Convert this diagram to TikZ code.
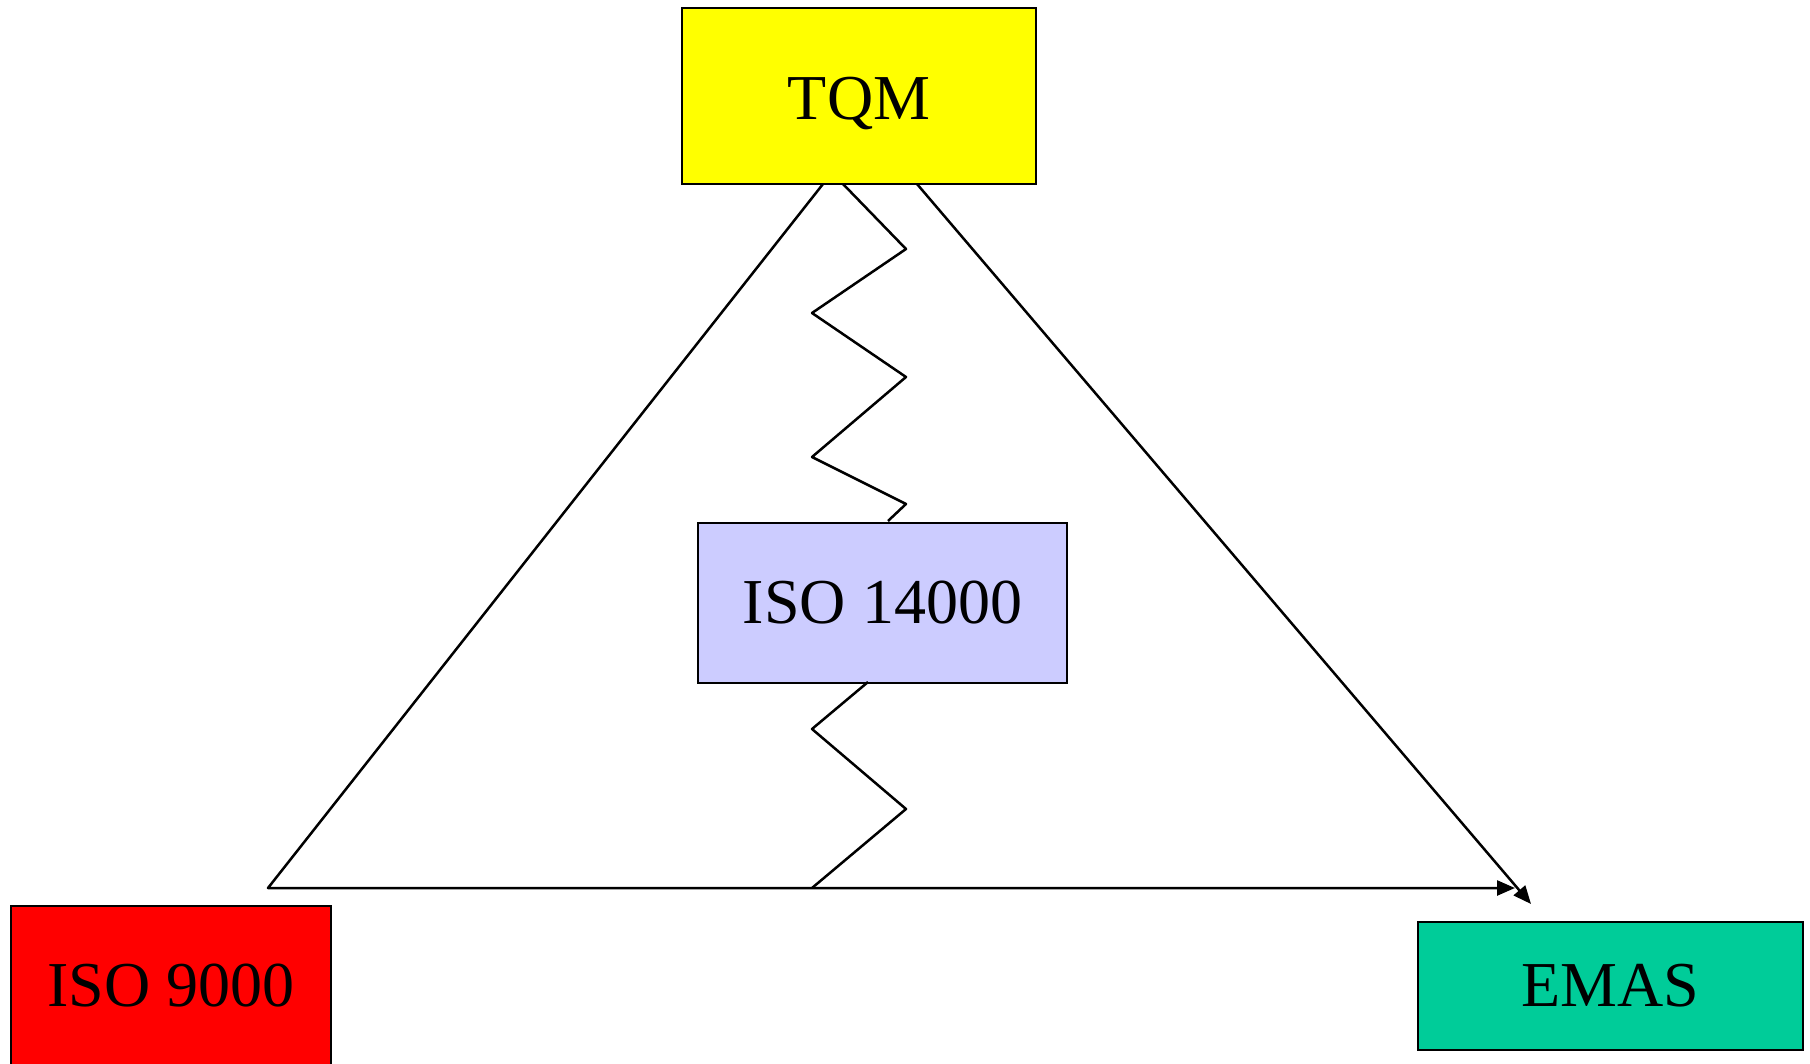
\documentclass[tikz,border=0pt]{standalone}
\usepackage{fontspec}
\setmainfont{Liberation Serif}
\usetikzlibrary{arrows.meta}
\definecolor{tqmyellow}{HTML}{FFFF00}
\definecolor{isoblue}{HTML}{CCCCFF}
\definecolor{isored}{HTML}{FF0000}
\definecolor{emasgreen}{HTML}{00CC99}
\tikzset{
  box/.style={draw=black, line width=2.6pt, inner sep=0pt, font=\fontsize{64}{72}\selectfont},
  conn/.style={draw=black, line width=2.5pt, line join=round},
  arr/.style={conn, -{Triangle[length=18pt, width=15pt]}}
}
\begin{document}
\begin{tikzpicture}[x=1pt, y=-1pt]
\useasboundingbox (0,0) rectangle (1810,1064);
\node[box, fill=tqmyellow, minimum width=354pt, minimum height=176pt] (tqm) at (859,96) {};
\node[font=\fontsize{64}{72}\selectfont, inner sep=0pt] (tqmtext) at (859,104) {TQM};
\node[box, fill=isoblue, minimum width=369pt, minimum height=160pt] (iso14) at (882.5,603) {ISO 14000};
\node[box, fill=isored, minimum width=320pt, minimum height=160pt] (iso9) at (171,986) {ISO 9000};
\node[box, fill=emasgreen, minimum width=385pt, minimum height=128pt] (emas) at (1610.5,986) {EMAS};
% attachment points
\coordinate (tqmL) at (823,184);
\coordinate (tqmZ) at (843,184);
\coordinate (tqmR) at (917,184);
\coordinate (corner) at (268,888);
\coordinate (tipH) at (1515,888);
\coordinate (tipD) at (1531,904);
\coordinate (isoTop) at (888,521);
\coordinate (isoBot) at (868,682);
\coordinate (baseZ) at (812,888);
% triangle sides
\draw[arr] (tqmL) -- (corner) -- (tipH);
\draw[arr] (tqmR) -- (tipD);
% zigzag TQM -> ISO 14000
\draw[conn] (tqmZ) -- (906,249) -- (812,313) -- (906,377) -- (812,457) -- (906,504) -- (isoTop);
% zigzag ISO 14000 -> base
\draw[conn] (isoBot) -- (812,729) -- (906,809) -- (baseZ);
\end{tikzpicture}
\end{document}
